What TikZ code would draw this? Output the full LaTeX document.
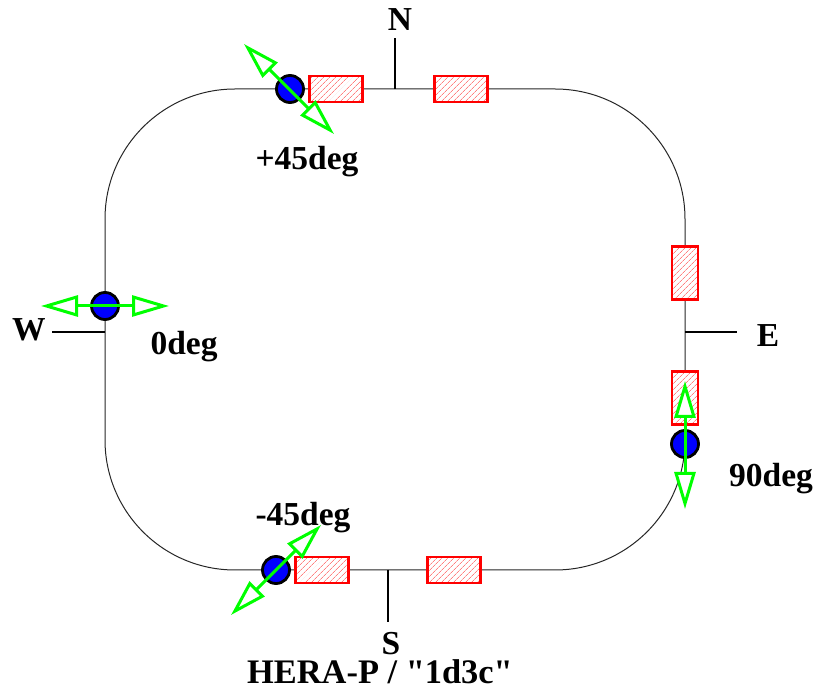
\documentclass[tikz,border=0pt]{standalone}
\usepackage{fontspec}
\newfontfamily\labelfont{Liberation Serif}
\usetikzlibrary{arrows.meta,patterns.meta}
\tikzset{
    ring/.style={line width=1pt,black!85},
    tick/.style={line width=2.8pt},
    label/.style={font=\labelfont\fontsize{33.5}{33.5}\selectfont\bfseries,inner sep=0pt},
    titlelabel/.style={font=\labelfont\fontsize{34.4}{34.4}\selectfont\bfseries,inner sep=0pt},
    rotator/.style={draw=red,line width=2.8pt,inner sep=0pt,preaction={fill=white},
        pattern={Lines[angle=45,distance=4pt,line width=.7pt]},pattern color=red!50},
    flathoriz/.style={rotator,minimum width=53pt,minimum height=26pt},
    flatvert/.style={rotator,minimum width=26pt,minimum height=53pt},
    snake/.style={circle,draw=black,fill=blue,line width=2.8pt,minimum size=27pt,inner sep=0pt},
    spin/.style={draw=green,line width=3pt,
        {Triangle[open,length=37pt,width=21pt,fill=white]}-{Triangle[open,length=37pt,width=21pt,fill=white]}}
}

\begin{document}
\begin{tikzpicture}[x=1pt,y=-1pt]
            \useasboundingbox (0,0) rectangle (820,692);
            % the ring
            \draw[ring,rounded corners=130pt] (105,89) rectangle (685,570);
            % compass points
            \coordinate (n) at (395,89);
            \coordinate (nend) at (395,38);
            \coordinate (e) at (685,332);
            \coordinate (eend) at (737,332);
            \coordinate (s) at (388,570);
            \coordinate (send) at (388,622);
            \coordinate (w) at (105,332);
            \coordinate (wend) at (52,332);
            \draw[tick] (n) -- (nend);
            \draw[tick] (e) -- (eend);
            \draw[tick] (s) -- (send);
            \draw[tick] (w) -- (wend);
            \node[label] (nlabel) at (400,20) {N};
            \node[label] (elabel) at (768,336) {E};
            \node[label] (slabel) at (391,644) {S};
            \node[label] (wlabel) at (29,330) {W};
            % rotators
            \node[flathoriz] (nleft) at (336,89) {};
            \node[flathoriz] (nright) at (461,89) {};
            \node[flatvert] (eup) at (685,273) {};
            \node[flatvert] (edown) at (685,398) {};
            \node[flathoriz] (sleft) at (322,570) {};
            \node[flathoriz] (sright) at (454,570) {};
            % snakes
            \node[snake] (snakeplus) at (290,89) {};
            \node[snake] (snakezero) at (105,306) {};
            \node[snake] (snakeninety) at (685,444) {};
            \node[snake] (snakeminus) at (276,570) {};
            % spin directions
            \coordinate (plusa) at (244,44);
            \coordinate (plusb) at (334,134);
            \coordinate (zeroa) at (41,306);
            \coordinate (zerob) at (169,306);
            \coordinate (ninetya) at (685,381);
            \coordinate (ninetyb) at (685,509);
            \coordinate (minusa) at (231,615);
            \coordinate (minusb) at (321,525);
            \draw[spin] (plusa) -- (plusb);
            \draw[spin] (zeroa) -- (zerob);
            \draw[spin] (ninetya) -- (ninetyb);
            \draw[spin] (minusa) -- (minusb);
            \node[label] (pluslabel) at (307,162) {+45deg};
            \node[label] (zerolabel) at (184,347) {0deg};
            \node[label] (ninetylabel) at (771,479) {90deg};
            \node[label] (minuslabel) at (303,518) {-45deg};
            \node[titlelabel] (title) at (380,672) {HERA-P / "1d3c"};
        \end{tikzpicture}
\end{document}
